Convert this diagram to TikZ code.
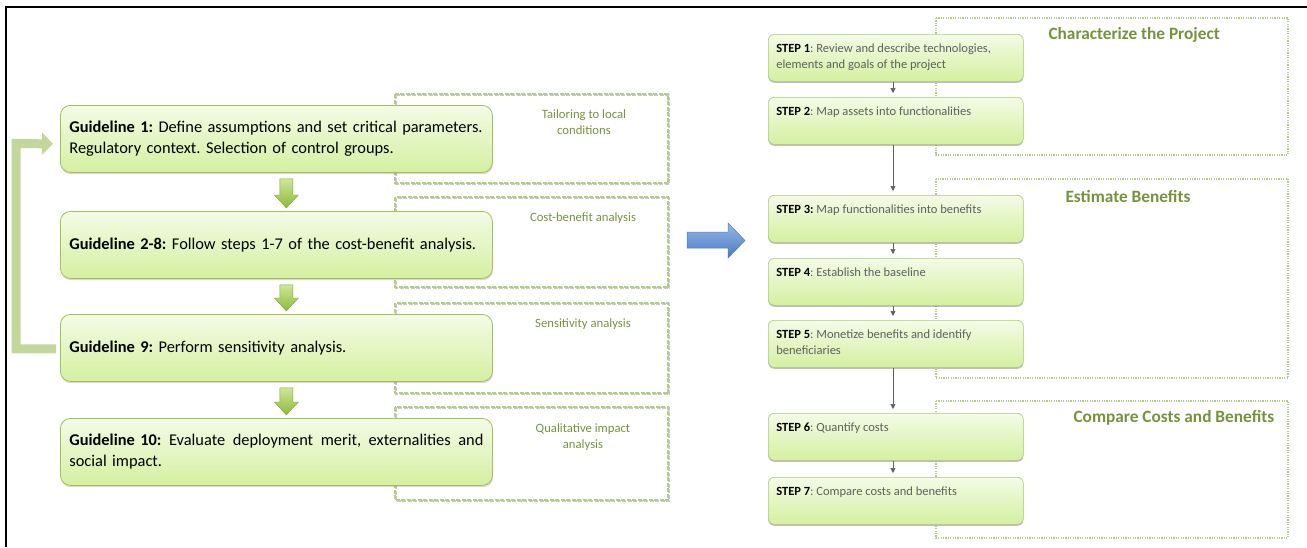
\documentclass[tikz,border=0pt]{standalone}
\usepackage{fontspec}
\setmainfont{Carlito}
\usetikzlibrary{calc,shadows,arrows.meta}
\definecolor{boxtop}{RGB}{244,251,230}
\definecolor{boxbot}{RGB}{212,240,160}
\definecolor{boxborder}{RGB}{160,192,95}
\definecolor{brk}{RGB}{180,204,135}
\definecolor{brkshadow}{RGB}{200,200,200}
\definecolor{lbl}{RGB}{118,146,60}
\definecolor{fbcol}{RGB}{195,214,155}
\definecolor{arrowtop}{RGB}{205,232,150}
\definecolor{arrowbot}{RGB}{140,185,60}
\definecolor{bluetop}{RGB}{150,185,232}
\definecolor{bluebot}{RGB}{72,122,192}
\definecolor{blueborder}{RGB}{74,126,187}
\definecolor{stepgray}{RGB}{95,95,95}
\newcommand\greendown[2]{%
  \shade[top color=arrowtop,bottom color=arrowbot,draw=arrowbot!90!black,line width=0.4pt]
  let \p1=($(#1.south)+(10,6)$), \p2=($(#2.north)+(10,-3)$) in
  (\x1-6.5pt,\y1) -- (\x1+6.5pt,\y1) -- (\x1+6.5pt,\y2+13pt) -- (\x1+12pt,\y2+13pt)
  -- (\x1,\y2) -- (\x1-12pt,\y2+13pt) -- (\x1-6.5pt,\y2+13pt) -- cycle;}
\newcommand\bracketbox[4]{%
  \draw[brkbox,draw=brkshadow,shift={(1,1.2)}] (#1,#2) rectangle (#3,#4);
  \draw[brkbox] (#1,#2) rectangle (#3,#4);}
\begin{document}
\frenchspacing
\begin{tikzpicture}[x=1pt,y=-1pt,
  gbox/.style={draw=boxborder,line width=0.8pt,rounded corners=10pt,
    top color=boxtop,bottom color=boxbot,
    drop shadow={opacity=0.3,shadow xshift=0.6pt,shadow yshift=-1.8pt},
    minimum width=432pt,minimum height=67pt,text width=414pt,inner xsep=9pt,
    align=left,anchor=north west,font=\fontsize{16.4}{21}\selectfont},
  sbox/.style={draw=boxborder!85,line width=0.6pt,rounded corners=6pt,
    top color=boxtop,bottom color=boxbot,
    drop shadow={opacity=0.5,shadow xshift=0pt,shadow yshift=-1.5pt},
    inner xsep=8pt,inner ysep=9.5pt,anchor=north west,text=stepgray,
    font=\fontsize{12.5}{16}\selectfont},
  brkbox/.style={draw=brk,line width=1.8pt,dash pattern=on 4pt off 1.5pt},
  dotbox/.style={draw=brk,line width=1.5pt,dash pattern=on 1.2pt off 1.2pt},
  brklabel/.style={text=lbl,align=center,font=\fontsize{12.7}{16}\selectfont},
  title/.style={text=lbl,anchor=west,font=\fontsize{17.3}{20}\selectfont\bfseries},
  fbarrow/.style={draw=fbcol,line width=9pt,line join=miter,
    -{Triangle[length=11pt,width=22pt]}},
  garrow/.style={draw=stepgray,line width=0.6pt,-{Triangle[length=5pt,width=5pt]},shorten >=4pt}
]
\useasboundingbox (0,0) rectangle (1307,547);
% frame
\draw[line width=2pt] (6,547) -- (6,7) -- (1307,7);

% left brackets
\bracketbox{395}{94}{668}{183}
\bracketbox{395}{197}{668}{287}
\bracketbox{395}{303}{668}{393}
\bracketbox{395}{407}{668}{500}
\node[brklabel] (l1) at (584,122) {Tailoring to local\\conditions};
\node[brklabel] (l2) at (583,218) {Cost-benefit analysis};
\node[brklabel] (l3) at (583,324) {Sensitivity analysis};
\node[brklabel] (l4) at (583,437) {Qualitative impact\\analysis};

% left boxes
\node[gbox] (g1) at (60,105) {\textbf{Guideline 1:} Define assumptions and set critical parameters.\\Regulatory context. Selection of control groups.};
\node[gbox] (g2) at (60,211) {\textbf{Guideline 2-8:} Follow steps 1-7 of the cost-benefit analysis.};
\node[gbox] (g9) at (60,314) {\textbf{Guideline 9:} Perform sensitivity analysis.};
\node[gbox] (g10) at (60,418) {\makebox[414pt][s]{\textbf{Guideline 10:}\hfill Evaluate\hfill deployment\hfill merit,\hfill externalities\hfill and}\\social impact.};

\greendown{g1}{g2}
\greendown{g2}{g9}
\greendown{g9}{g10}

% feedback arrow
\draw[fbarrow] ($(g9.west)+(-4,1)$) -| (16,143.5) -- ($(g1.west)+(-7,5)$);

% blue arrow
\shade[top color=bluetop,bottom color=bluebot,draw=blueborder,line width=0.5pt]
  (687,232) -- (728,232) -- (728,223) -- (745,240.5) -- (728,258) -- (728,248) -- (687,248) -- cycle;

% right dotted boxes
\draw[dotbox] (936,18) rectangle (1288,155);
\draw[dotbox] (936,179) rectangle (1288,378);
\draw[dotbox] (936,401) rectangle (1288,538);
\node[title] (t1) at (1045,35) {Characterize the Project};
\node[title] (t2) at (1062,196) {Estimate Benefits};
\node[title] (t3) at (1070,418) {Compare Costs and Benefits};

% step boxes
\node[sbox] (s1) at (768,34) {\parbox[t][28pt][t]{239pt}{\textbf{\color{black}STEP 1}: Review and describe technologies,\\elements and goals of the project}};
\node[sbox] (s2) at (768,97) {\parbox[t][28pt][t]{239pt}{\textbf{\color{black}STEP 2}: Map assets into functionalities}};
\node[sbox] (s3) at (768,195) {\parbox[t][28pt][t]{239pt}{\textbf{\color{black}STEP 3:} Map functionalities into benefits}};
\node[sbox] (s4) at (768,258) {\parbox[t][28pt][t]{239pt}{\textbf{\color{black}STEP 4}: Establish the baseline}};
\node[sbox] (s5) at (768,320) {\parbox[t][28pt][t]{239pt}{\textbf{\color{black}STEP 5}: Monetize benefits and identify\\beneficiaries}};
\node[sbox] (s6) at (768,413) {\parbox[t][28pt][t]{239pt}{\textbf{\color{black}STEP 6}: Quantify costs}};
\node[sbox] (s7) at (768,477) {\parbox[t][28pt][t]{239pt}{\textbf{\color{black}STEP 7}: Compare costs and benefits}};

\coordinate (ax) at (893,0);
\draw[garrow] (s1.south -| ax) -- (s2.north -| ax);
\draw[garrow] (s2.south -| ax) -- (s3.north -| ax);
\draw[garrow] (s3.south -| ax) -- (s4.north -| ax);
\draw[garrow] (s4.south -| ax) -- (s5.north -| ax);
\draw[garrow] (s5.south -| ax) -- (s6.north -| ax);
\draw[garrow] (s6.south -| ax) -- (s7.north -| ax);
\end{tikzpicture}
\end{document}
